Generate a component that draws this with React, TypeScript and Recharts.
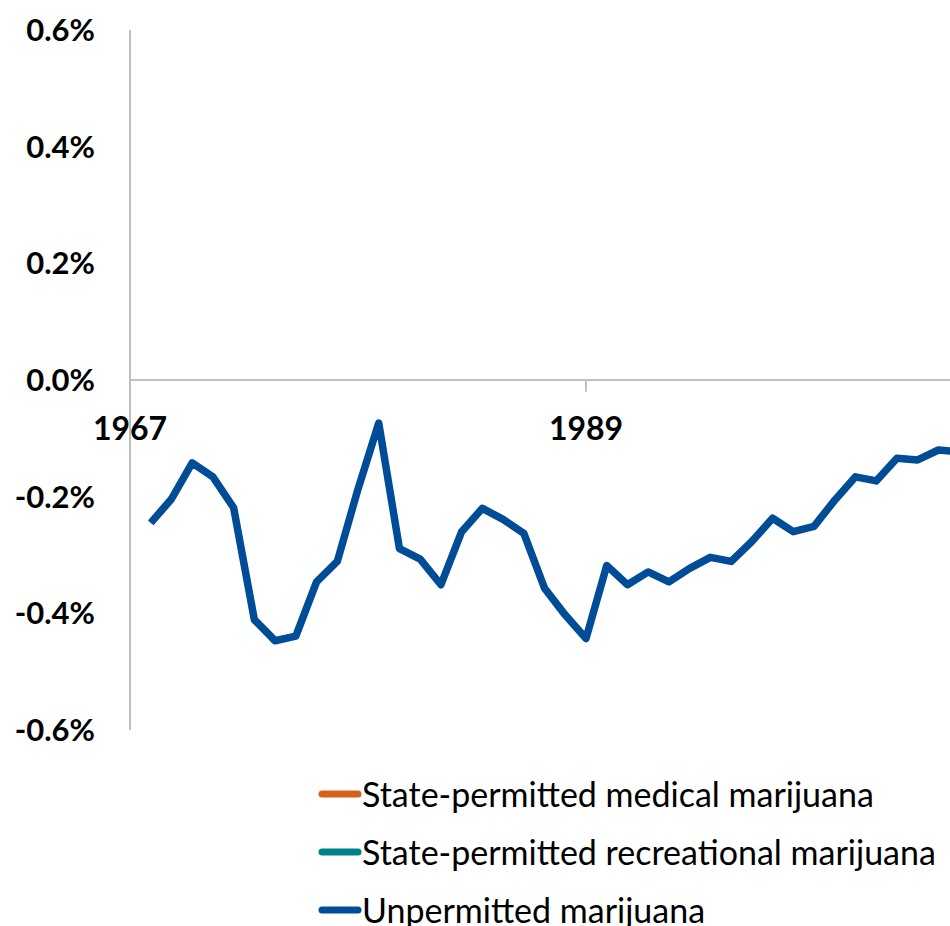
import React from "react";
import { LineChart, Line, XAxis, YAxis, ReferenceLine, Legend } from "recharts";

const years = [
  1968, 1969, 1970, 1971, 1972, 1973, 1974, 1975, 1976, 1977,
  1978, 1979, 1980, 1981, 1982, 1983, 1984, 1985, 1986, 1987,
  1988, 1989, 1990, 1991, 1992, 1993, 1994, 1995, 1996, 1997,
  1998, 1999, 2000, 2001, 2002, 2003, 2004, 2005, 2006, 2007,
];
const unpermitted = [
  -0.245, -0.204, -0.142, -0.166, -0.219, -0.411, -0.447, -0.439, -0.346, -0.311,
  -0.187, -0.074, -0.289, -0.307, -0.351, -0.260, -0.220, -0.239, -0.263, -0.357,
  -0.403, -0.443, -0.318, -0.351, -0.329, -0.346, -0.323, -0.304, -0.311, -0.277,
  -0.237, -0.260, -0.251, -0.206, -0.166, -0.173, -0.134, -0.137, -0.120, -0.123,
];
const medical: (number | null)[] = years.map(() => null);
const recreational: (number | null)[] = years.map(() => null);

const seriesNames = [
  "State-permitted medical marijuana",
  "State-permitted recreational marijuana",
  "Unpermitted marijuana",
];
const seriesColors = ["#D6601E", "#00818A", "#004C97"];

const xTicks = [1967, 1989];
const xDomain = [1967, 2006.56];
const yTicks = [-0.6, -0.4, -0.2, 0, 0.2, 0.4, 0.6];
const yDomain = [-0.6, 0.6];
const tickMarkLength = 0.02;

const data = years.map((y, i) => ({
  year: y,
  medical: medical[i],
  recreational: recreational[i],
  unpermitted: unpermitted[i],
}));

const FONT = "Lato, 'Noto Sans', sans-serif";

const renderLegend = (props: any) => {
  const { payload } = props;
  return (
    <div style={{ fontFamily: FONT, fontSize: 34, color: "#000", height: 174 }}>
      {(payload || []).map((entry: any, i: number) => (
        <div key={i} style={{ display: "flex", alignItems: "center", height: 58 }}>
          <svg width={44} height={10} style={{ display: "block" }}>
            <line x1={4} y1={5} x2={40} y2={5} stroke={entry.color} strokeWidth={7} strokeLinecap="round" />
          </svg>
          <span style={{ whiteSpace: "nowrap", lineHeight: "58px" }}>{entry.value}</span>
        </div>
      ))}
    </div>
  );
};

export default function App() {
  return (
    <div style={{ position: "absolute", left: 0, top: 0, width: 950, height: 926, overflow: "hidden" }}>
      <LineChart
        width={950}
        height={926}
        data={data}
        margin={{ top: 30, right: 0, bottom: 0, left: 0 }}
      >
        <YAxis
          type="number"
          domain={yDomain}
          ticks={yTicks}
          interval={0}
          width={130}
          tickLine={false}
          tickSize={0}
          tickMargin={35}
          axisLine={{ stroke: "#BFBFBF", strokeWidth: 2 }}
          tick={{ fill: "#000", fontFamily: FONT, fontWeight: 700, fontSize: 31 }}
          tickFormatter={(v: number) => `${v.toFixed(1)}%`}
        />
        <XAxis
          dataKey="year"
          type="number"
          domain={xDomain}
          allowDataOverflow
          ticks={xTicks}
          interval={0}
          height={22}
          axisLine={false}
          tickLine={false}
          tickSize={0}
          tickMargin={-313}
          tick={{ fill: "#000", fontFamily: FONT, fontWeight: 700, fontSize: 32 }}
        />
        <ReferenceLine y={0} stroke="#BFBFBF" strokeWidth={2} />
        {xTicks.map((t) => (
          <ReferenceLine
            key={t}
            segment={[
              { x: t, y: 0 },
              { x: t, y: -tickMarkLength },
            ]}
            stroke="#BFBFBF"
            strokeWidth={2}
          />
        ))}
        <Legend
          layout="vertical"
          verticalAlign="bottom"
          align="center"
          content={renderLegend}
          wrapperStyle={{ left: 318, top: 765, bottom: "auto", width: "auto" }}
        />
        <Line
          dataKey="medical"
          name={seriesNames[0]}
          stroke={seriesColors[0]}
          strokeWidth={7.5}
          dot={false}
          isAnimationActive={false}
        />
        <Line
          dataKey="recreational"
          name={seriesNames[1]}
          stroke={seriesColors[1]}
          strokeWidth={7.5}
          dot={false}
          isAnimationActive={false}
        />
        <Line
          dataKey="unpermitted"
          name={seriesNames[2]}
          stroke={seriesColors[2]}
          strokeWidth={7.5}
          strokeLinejoin="round"
          dot={false}
          isAnimationActive={false}
        />
      </LineChart>
    </div>
  );
}
